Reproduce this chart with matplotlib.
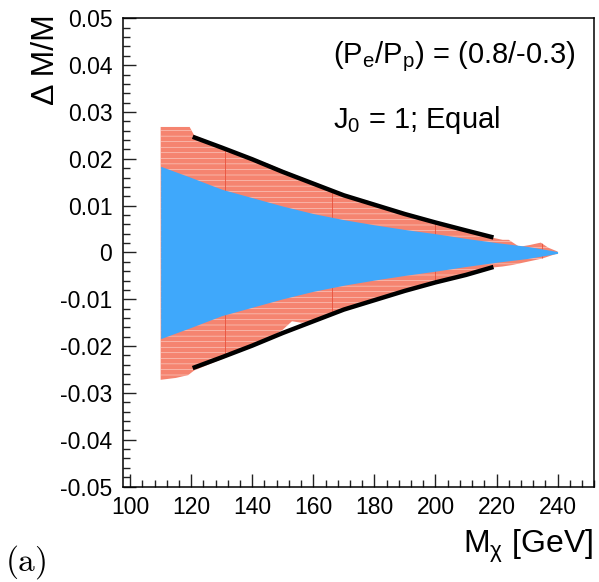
import numpy as np
import matplotlib
matplotlib.use("Agg")
import matplotlib.pyplot as plt
from matplotlib.ticker import MultipleLocator

plt.rcParams['font.family'] = ['Liberation Sans', 'DejaVu Sans']
plt.rcParams['mathtext.fontset'] = 'custom'
plt.rcParams['mathtext.rm'] = 'Liberation Sans'
plt.rcParams['mathtext.it'] = 'Liberation Sans:italic'
plt.rcParams['hatch.linewidth'] = 0.35

# outer (red, hatched) band
red_up_x = [110, 119.5, 121, 130, 140, 145, 150, 160, 170, 178, 185, 190, 200, 210,
            219, 222, 224, 227.5, 231, 234.5, 237, 240]
red_up_y = [0.0268, 0.0268, 0.0250, 0.0226, 0.0200, 0.0190, 0.0176, 0.0150, 0.0123,
            0.0110, 0.0088, 0.0080, 0.0062, 0.0046, 0.0031, 0.0027, 0.0027, 0.0012,
            0.0016, 0.0021, 0.0010, 0.0002]
red_lo_x = [110, 115, 119, 121, 130, 140, 145, 150, 153, 156, 160, 170, 180, 190, 200,
            210, 219, 222, 225, 230, 235, 240]
red_lo_y = [-0.0272, -0.0268, -0.0262, -0.0252, -0.0228, -0.0200, -0.0186, -0.0165,
            -0.0147, -0.0150, -0.0148, -0.0122, -0.0102, -0.0082, -0.0064, -0.0048,
            -0.0032, -0.0030, -0.0027, -0.0020, -0.0013, -0.0002]

# inner (blue) band, symmetric
blue_x = [110, 120, 130, 140, 150, 160, 170, 180, 190, 200, 210, 220, 230, 240]
blue_y = [0.0184, 0.0160, 0.0135, 0.0117, 0.0099, 0.0083, 0.0070, 0.0059, 0.0049,
          0.0040, 0.0030, 0.0021, 0.0013, 0.0002]

# black envelope curves
line_x = [120.5, 130, 140, 150, 160, 170, 180, 190, 200, 210, 219]
line_up = [0.0247, 0.0224, 0.0199, 0.0172, 0.0147, 0.0122, 0.0102, 0.0082, 0.0064,
           0.0047, 0.0032]
line_lo = [-0.0247, -0.0224, -0.0199, -0.0172, -0.0147, -0.0122, -0.0102, -0.0082,
           -0.0064, -0.0048, -0.0031]

bin_edges = [131, 166, 200, 235]

fig = plt.figure(figsize=(5.99, 5.82), dpi=100)
ax = fig.add_axes([0.206, 0.164, 0.786, 0.8045])

# red band polygon
poly_x = red_up_x + red_lo_x[::-1]
poly_y = red_up_y + red_lo_y[::-1]
red = ax.fill(poly_x, poly_y, facecolor='#f58470', edgecolor='#fde4de', hatch='---',
              linewidth=0, zorder=1)[0]
vl = ax.vlines(bin_edges, -0.03, 0.03, color='#e8513c', linewidth=0.6, zorder=1.5)
vl.set_clip_path(red)

bx = np.array(blue_x)
by = np.array(blue_y)
ax.fill_between(bx, -by, by, color='#3fa8fb', linewidth=0, zorder=2)

ax.plot(line_x, line_up, color='black', lw=3.2, solid_capstyle='butt', zorder=3)
ax.plot(line_x, line_lo, color='black', lw=3.2, solid_capstyle='butt', zorder=3)

ax.set_xlim(97.8, 252)
ax.set_ylim(-0.05, 0.05)
ax.xaxis.set_major_locator(MultipleLocator(20))
ax.xaxis.set_minor_locator(MultipleLocator(4))
ax.yaxis.set_major_locator(MultipleLocator(0.01))
ax.yaxis.set_minor_locator(MultipleLocator(0.002))
ax.tick_params(which='both', direction='in', top=False, right=False, labelsize=16.5,
               width=1.0, color='#222222')
ax.tick_params(which='major', length=9.5)
ax.tick_params(which='minor', length=5)
ax.tick_params(axis='x', pad=7)
ax.tick_params(axis='y', pad=8)
ax.set_yticks(np.arange(-0.05, 0.051, 0.01))
ax.set_yticklabels(['-0.05', '-0.04', '-0.03', '-0.02', '-0.01', '0', '0.01', '0.02',
                    '0.03', '0.04', '0.05'])
for s in ax.spines.values():
    s.set_linewidth(1.1)

fig.text(46 / 599, 1 - 14 / 582, 'Δ M/M', rotation=90, ha='center', va='top', fontsize=23)
fig.text(593 / 599, 1 - 553 / 582, r'$\mathrm{M_{χ}}$ [GeV]', ha='right',
         va='baseline', fontsize=23)
fig.text(333 / 599, 1 - 63 / 582, r'$\mathrm{(P_{e}/P_{p})}$ = (0.8/-0.3)', ha='left',
         va='baseline', fontsize=21)
fig.text(333 / 599, 1 - 128 / 582, r'$\mathrm{J_{0}}$ = 1; Equal', ha='left',
         va='baseline', fontsize=21)
fig.text(5 / 599, 1 - 571 / 582, r'$\mathrm{(a)}$', ha='left', va='baseline',
         fontsize=24, math_fontfamily='cm')

fig.savefig('out.png', dpi=100)
